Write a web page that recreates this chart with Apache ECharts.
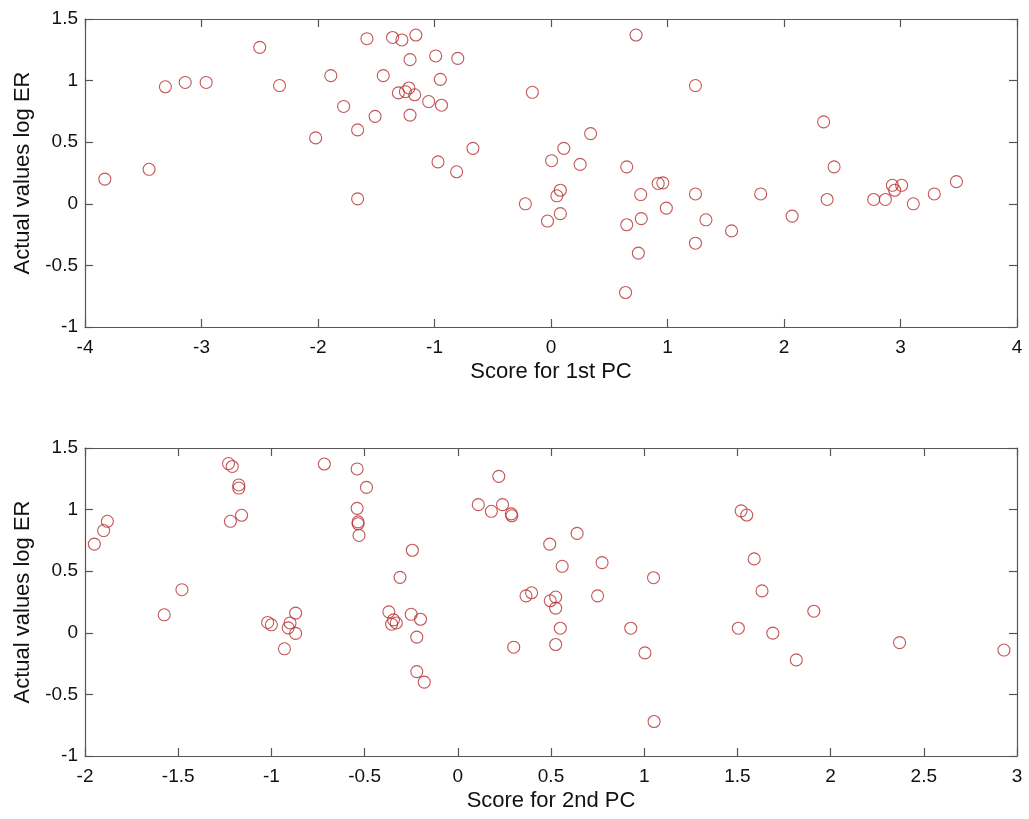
<!DOCTYPE html>
<html>
<head>
<meta charset="utf-8">
<script src="https://cdn.jsdelivr.net/npm/echarts@6/dist/echarts.min.js"></script>
<style>
  html, body { margin: 0; padding: 0; background: #fff; }
  #chart { width: 1029px; height: 819px; }
</style>
</head>
<body>
<div id="chart"></div>
<script>
// score on 1st PC vs actual log ER
var pc1Score = [-3.83, -3.45, -3.31, -3.14, -2.96, -2.50, -2.33, -2.02, -1.89, -1.78,
                -1.66, -1.66, -1.58, -1.51, -1.44, -1.36, -1.28, -1.16, -1.21, -0.99,
                -0.80, -0.95, -1.31, -1.25, -1.22, -1.17, -1.05, -0.94, -1.21, -0.67,
                -0.97, -0.81, -0.16, 0.73, 1.24, 0.34, 0.11, 0.005, 0.25, 0.65,
                0.08, 0.05, -0.22, -0.03, 0.08, 0.92, 0.96, 0.77, 1.24, 0.99,
                1.33, 0.775, 0.65, 1.24, 0.75, 0.64, 2.34, 2.43, 1.55, 1.80,
                2.07, 2.37, 2.77, 2.87, 2.93, 2.95, 3.01, 3.11, 3.29, 3.48];
var pc1LogER = [0.20, 0.28, 0.95, 0.985, 0.985, 1.27, 0.96, 0.535, 1.04, 0.79,
                0.60, 0.04, 1.34, 0.71, 1.04, 1.35, 1.33, 1.37, 1.17, 1.20,
                1.18, 1.01, 0.90, 0.91, 0.94, 0.885, 0.83, 0.80, 0.72, 0.45,
                0.34, 0.26, 0.905, 1.37, 0.96, 0.57, 0.45, 0.35, 0.32, 0.30,
                0.11, 0.065, 0.00, -0.14, -0.08, 0.165, 0.17, 0.075, 0.08, -0.035,
                -0.13, -0.12, -0.17, -0.32, -0.40, -0.72, 0.665, 0.30, -0.22, 0.08,
                -0.10, 0.035, 0.035, 0.035, 0.15, 0.11, 0.15, 0.00, 0.08, 0.18];

// score on 2nd PC vs actual log ER
var pc2Score = [-1.95, -1.90, -1.88, -1.575, -1.48, -1.23, -1.21, -1.175, -1.175, -1.22,
                -1.16, -0.716, -0.54, -0.49, -0.54, -0.535, -0.535, -0.53, -1.02, -1.00,
                -0.87, -0.90, -0.91, -0.87, -0.93, -0.37, -0.355, -0.345, -0.33, -0.31,
                -0.244, -0.25, -0.20, -0.22, -0.22, -0.18, 0.22, 0.11, 0.18, 0.24,
                0.287, 0.29, 0.30, 0.366, 0.396, 0.493, 0.64, 0.56, 0.496, 0.525,
                0.525, 0.55, 0.525, 0.774, 0.75, 0.928, 1.004, 1.05, 1.053, 1.52,
                1.55, 1.59, 1.632, 1.91, 1.505, 1.69, 1.816, 2.37, 2.93];
var pc2LogER = [0.72, 0.83, 0.905, 0.146, 0.35, 1.374, 1.35, 1.20, 1.175, 0.905,
                0.954, 1.37, 1.33, 1.18, 1.01, 0.90, 0.885, 0.79, 0.084, 0.065,
                0.16, 0.08, 0.04, -0.005, -0.13, 0.17, 0.07, 0.105, 0.08, 0.45,
                0.67, 0.15, 0.11, -0.035, -0.315, -0.40, 1.27, 1.04, 0.986, 1.04,
                0.965, 0.95, -0.117, 0.30, 0.325, 0.72, 0.807, 0.54, 0.26, 0.29,
                0.20, 0.037, -0.095, 0.57, 0.30, 0.037, -0.163, 0.447, -0.72, 0.99,
                0.956, 0.60, 0.34, 0.175, 0.037, -0.003, -0.22, -0.08, -0.14];

function pairs(xs, ys) {
    var out = [];
    for (var i = 0; i < xs.length; i++) out.push([xs[i], ys[i]]);
    return out;
}

var axisColor = '#555555';
var markColor = '#b42c2c';
var font = 'Liberation Sans, Arial, sans-serif';

function mainAxis(pos, gridIdx, min, max, step, name, gap, labelGap) {
    return {
        type: 'value', gridIndex: gridIdx, position: pos,
        min: min, max: max, interval: step,
        name: name, nameLocation: 'middle', nameGap: gap,
        nameTextStyle: { color: '#111', fontSize: 22, fontFamily: font },
        axisLine: { show: true, onZero: false, lineStyle: { color: axisColor, width: 1.2 } },
        axisTick: { show: true, inside: true, length: 8, lineStyle: { color: axisColor, width: 1.2 } },
        axisLabel: { color: '#111', fontSize: 19, fontFamily: font, margin: labelGap },
        splitLine: { show: false }
    };
}
function mirrorAxis(pos, gridIdx, min, max, step) {
    return {
        type: 'value', gridIndex: gridIdx, position: pos,
        min: min, max: max, interval: step,
        axisLine: { show: true, onZero: false, lineStyle: { color: axisColor, width: 1.2 } },
        axisTick: { show: true, inside: true, length: 8, lineStyle: { color: axisColor, width: 1.2 } },
        axisLabel: { show: false },
        splitLine: { show: false }
    };
}

var chart = echarts.init(document.getElementById('chart'));
var option = {
    backgroundColor: '#ffffff',
    animation: false,
    grid: [
        { left: 85, top: 19, width: 932, height: 308 },
        { left: 85, top: 448, width: 932, height: 308 }
    ],
    xAxis: [
        mainAxis('bottom', 0, -4, 4, 1, 'Score for 1st PC', 34, 11),
        mirrorAxis('top', 0, -4, 4, 1),
        mainAxis('bottom', 1, -2, 3, 0.5, 'Score for 2nd PC', 34, 11),
        mirrorAxis('top', 1, -2, 3, 0.5)
    ],
    yAxis: [
        mainAxis('left', 0, -1, 1.5, 0.5, 'Actual values log ER', 51, 7),
        mirrorAxis('right', 0, -1, 1.5, 0.5),
        mainAxis('left', 1, -1, 1.5, 0.5, 'Actual values log ER', 51, 7),
        mirrorAxis('right', 1, -1, 1.5, 0.5)
    ],
    series: [
        {
            type: 'scatter', xAxisIndex: 0, yAxisIndex: 0,
            data: pairs(pc1Score, pc1LogER),
            symbol: 'circle', symbolSize: 12,
            itemStyle: { color: 'rgba(0,0,0,0)', borderColor: markColor, borderWidth: 1.1 }
        },
        {
            type: 'scatter', xAxisIndex: 2, yAxisIndex: 2,
            data: pairs(pc2Score, pc2LogER),
            symbol: 'circle', symbolSize: 12,
            itemStyle: { color: 'rgba(0,0,0,0)', borderColor: markColor, borderWidth: 1.1 }
        }
    ]
};
chart.setOption(option);
</script>
</body>
</html>
